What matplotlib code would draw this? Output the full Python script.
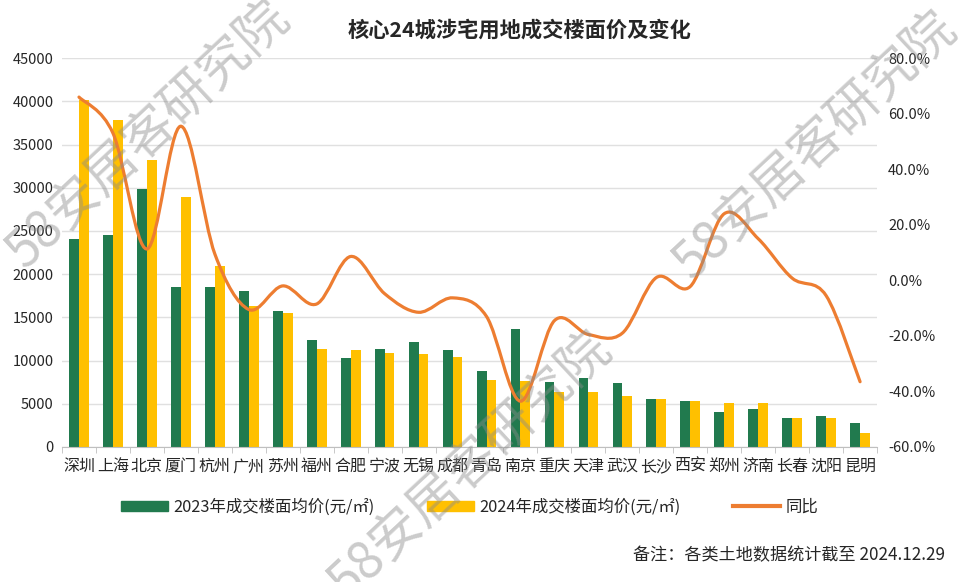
import matplotlib.pyplot as plt
from matplotlib.path import Path
from matplotlib.patches import PathPatch, Patch
from matplotlib.lines import Line2D
from matplotlib.ticker import FuncFormatter, MultipleLocator
import numpy as np

plt.rcParams['font.family'] = ['Noto Sans CJK SC', 'DejaVu Sans']

# data
cities = ['深圳', '上海', '北京', '厦门', '杭州', '广州', '苏州', '福州', '合肥', '宁波', '无锡', '成都',
          '青岛', '南京', '重庆', '天津', '武汉', '长沙', '西安', '郑州', '济南', '长春', '沈阳', '昆明']
price_2023 = [24050, 24500, 29850, 18550, 18550, 18100, 15750, 12400, 10300, 11350, 12150, 11200,
              8850, 13650, 7500, 7950, 7350, 5600, 5350, 4100, 4400, 3350, 3600, 2750]
price_2024 = [40150, 37850, 33250, 28970, 20950, 16300, 15450, 11350, 11200, 10850, 10750, 10450,
              7700, 7600, 6400, 6350, 5950, 5600, 5300, 5050, 5050, 3350, 3350, 1600]
yoy = [66.0, 53.0, 11.3, 55.5, 9.5, -10.5, -2.0, -8.5, 8.6, -4.8, -11.5, -6.3,
       -13.0, -43.5, -14.5, -19.5, -19.0, 1.0, -2.2, 24.0, 15.0, 0.8, -5.5, -36.5]

green = '#217A4E'
yellow = '#FFC000'
orange = '#ED7D31'
grid_c = '#E0E0E0'
text_c = '#262626'

fig = plt.figure(figsize=(9.6, 5.82), dpi=100)
ax = fig.add_axes([0.0646, 0.232, 0.849, 0.668])

x = np.arange(len(cities))
w = 0.29
ax.bar(x - w / 2, price_2023, width=w, color=green, zorder=2)
ax.bar(x + w / 2, price_2024, width=w, color=yellow, zorder=2)

ax.set_xlim(-0.5, len(cities) - 0.5)
ax.set_ylim(0, 45000)
ax.yaxis.set_major_locator(MultipleLocator(5000))
ax.grid(axis='y', color=grid_c, linewidth=1)
ax.set_axisbelow(True)
for s in ['top', 'left', 'right']:
    ax.spines[s].set_visible(False)
ax.spines['bottom'].set_color('#BFBFBF')
ax.tick_params(axis='y', length=0, labelsize=10.5, colors=text_c, pad=6)
ax.set_xticks(x)
ax.set_xticklabels(cities, fontsize=11.5, color=text_c)
ax.set_xticks(np.arange(-0.5, len(cities)), minor=True)
ax.tick_params(axis='x', which='major', length=0, pad=8)
ax.tick_params(axis='x', which='minor', length=4, color='#BFBFBF')

# yoy line, smoothed like excel (bezier through every point)
ax2 = ax.twinx()
ax2.set_ylim(-60, 80)
ax2.yaxis.set_major_locator(MultipleLocator(20))
ax2.yaxis.set_major_formatter(FuncFormatter(lambda v, p: f'{v:.1f}%'))
ax2.tick_params(axis='y', length=0, labelsize=10.5, colors=text_c, pad=8)
for s in ax2.spines.values():
    s.set_visible(False)

pts = np.column_stack([x, yoy])
verts = [pts[0]]
codes = [Path.MOVETO]
n = len(pts)
for i in range(n - 1):
    p0 = pts[i - 1] if i > 0 else pts[i]
    p1 = pts[i]
    p2 = pts[i + 1]
    p3 = pts[i + 2] if i + 2 < n else pts[i + 1]
    verts += [p1 + (p2 - p0) / 6, p2 - (p3 - p1) / 6, p2]
    codes += [Path.CURVE4] * 3
ax2.add_patch(PathPatch(Path(verts, codes), facecolor='none', edgecolor=orange,
                        linewidth=2.3, capstyle='round', zorder=3))

fig.text(0.541, 0.948, '核心24城涉宅用地成交楼面价及变化', ha='center', va='center',
         fontsize=15.3, fontweight='bold', color=text_c)

handles = [Patch(color=green), Patch(color=yellow), Line2D([], [], color=orange, linewidth=3)]
labels = ['2023年成交楼面均价(元/㎡)', '2024年成交楼面均价(元/㎡)', '同比']
fig.legend(handles, labels, ncol=3, loc='center left', bbox_to_anchor=(0.126, 0.129),
           frameon=False, fontsize=11.8, handlelength=2.85, handleheight=0.55,
           columnspacing=3.2, handletextpad=0.35, borderpad=0, borderaxespad=0,
           labelcolor=text_c)

fig.text(0.984, 0.046, '备注：各类土地数据统计截至 2024.12.29', ha='right', va='center',
         fontsize=12.3, color=text_c)

# watermarks
for wx, wy in [(0.154, 0.768), (0.49, 0.20), (0.849, 0.75)]:
    fig.text(wx, wy, '58安居客研究院', rotation=43, ha='center', va='center', fontsize=37,
             color='#8C8C8C', alpha=0.45, fontweight='light', zorder=10)

fig.savefig('out.png', dpi=100)
